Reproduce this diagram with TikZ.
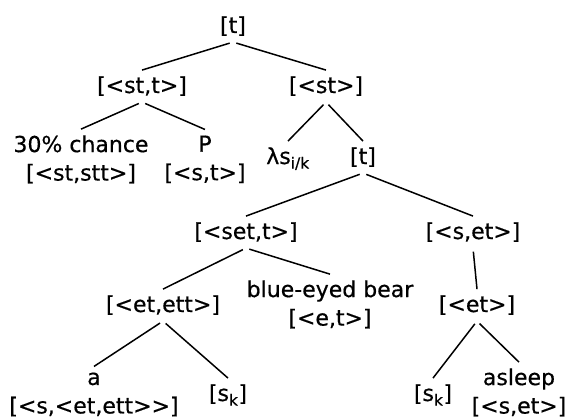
\documentclass[tikz,border=0pt]{standalone}
\usepackage{fontspec}
\setmainfont{DejaVu Sans}[FakeBold=0.5]
\begin{document}
\begin{tikzpicture}[x=1pt,y=-1pt,
  lab/.style={font=\fontsize{22}{28.5}\selectfont, align=center, inner xsep=1pt, inner ysep=6pt},
  edge/.style={line width=1.5pt, shorten <=3.5pt}]
\useasboundingbox[fill=white] (0,0) rectangle (576,420);
% single-line nodes (anchored on baseline)
\node[lab,anchor=base] (root) at (233,33) {[t]};
\node[lab,anchor=base] (stt) at (142,93) {[<st,t>]};
\node[lab,anchor=base] (st) at (326,93) {[<st>]};
\node[lab,anchor=base] (lam) at (288,164) {λs\textsubscript{i/k}};
\node[lab,anchor=base] (t2) at (363,164) {[t]};
\node[lab,anchor=base] (set) at (246,239) {[<set,t>]};
\node[lab,anchor=base] (set2) at (473,239) {[<s,et>]};
\node[lab,anchor=base] (ettn) at (163,312) {[<et,ett>]};
\node[lab,anchor=base] (et) at (477,312) {[<et>]};
\node[lab,anchor=base] (sk1) at (228,401) {[s\textsubscript{k}]};
\node[lab,anchor=base] (sk2) at (433,401) {[s\textsubscript{k}]};
% two-line nodes
\node[lab] (chance) at (81,159.4) {30\% chance\\{}[<st,stt>]};
\node[lab] (P) at (205,159.4) {P\\{}[<s,t>]};
\node[lab] (bear) at (330,304.4) {blue-eyed bear\\{}[<e,t>]};
\node[lab] (a) at (94,394.5) {a\\{}[<s,<et,ett>{}>]};
\node[lab] (asleep) at (519,392.4) {asleep\\{}[<s,et>]};
% edges
\draw[edge] (root.south) -- (stt.north);
\draw[edge] (root.south) -- (st.north);
\draw[edge] (stt.south) -- (chance.north);
\draw[edge] (stt.south) -- (P.north);
\draw[edge] (st.south) -- (lam.north);
\draw[edge] (st.south) -- (t2.north);
\draw[edge] (t2.south) -- (set.north);
\draw[edge] (t2.south) -- (set2.north);
\draw[edge] (set.south) -- (ettn.north);
\draw[edge] (set.south) -- (bear.north);
\draw[edge] (set2.south) -- (et.north);
\draw[edge] (ettn.south) -- (a.north);
\draw[edge] (ettn.south) -- (sk1.north);
\draw[edge] (et.south) -- (sk2.north);
\draw[edge] (et.south) -- (asleep.north);
\end{tikzpicture}
\end{document}
